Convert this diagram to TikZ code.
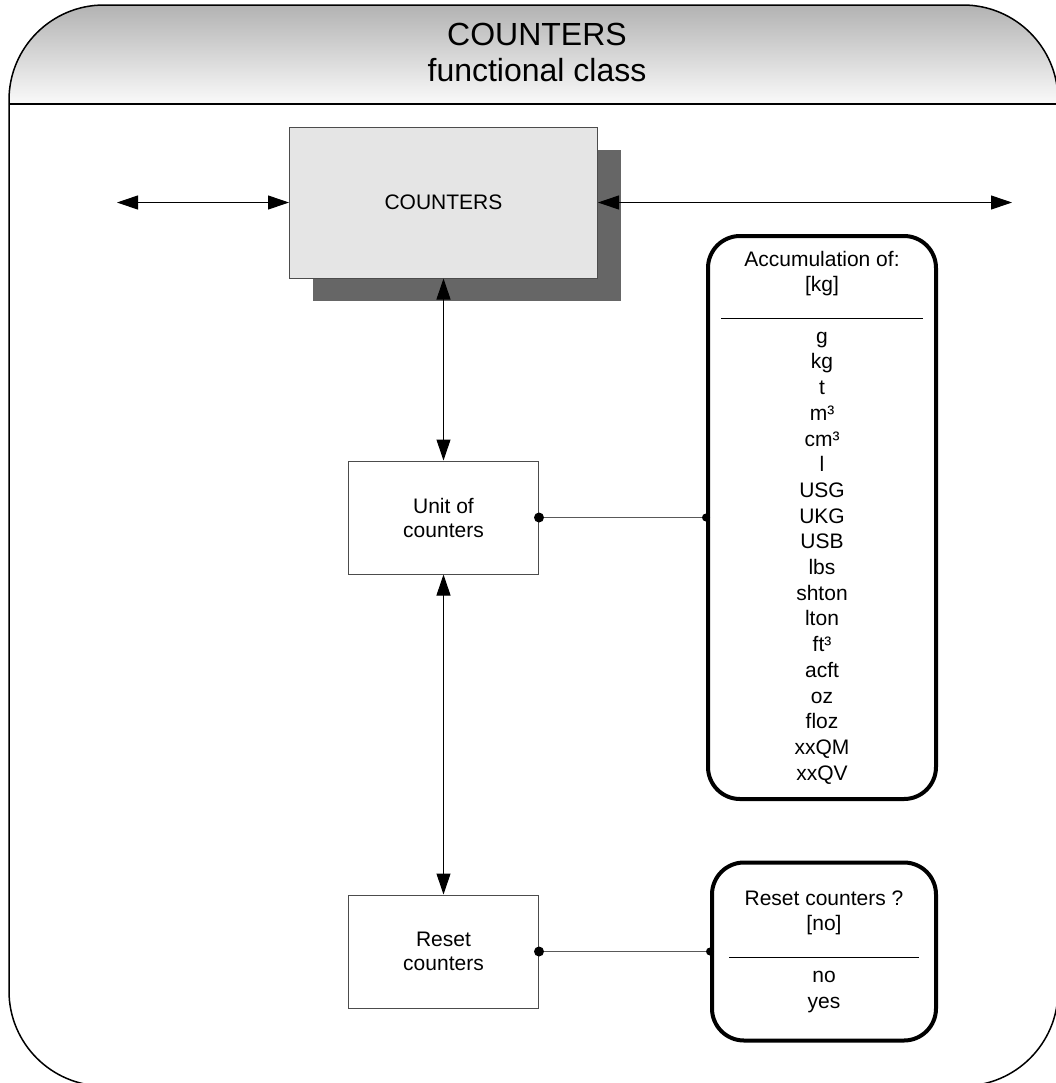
\documentclass[tikz,border=0pt]{standalone}
\usepackage{fontspec}
\setmainfont{Liberation Sans}
\usepackage{tikz}
\usetikzlibrary{arrows.meta,positioning,shadows}
\tikzset{
  box/.style={rectangle, draw=black!70, line width=0.5pt, align=center,
    font=\fontsize{10.5pt}{12pt}\selectfont, inner sep=2pt},
  func/.style={box, fill=black!10, minimum width=154pt, minimum height=75.5pt,
    drop shadow={shadow xshift=11.5pt, shadow yshift=-11.25pt, fill=black!60, opacity=1}},
  param/.style={box, minimum width=95pt, minimum height=56.5pt},
  choice/.style={rectangle, rounded corners=16pt, draw=black, line width=2pt,
    align=center, font=\fontsize{10.5pt}{12.85pt}\selectfont, inner sep=2pt},
  dot/.style={circle, fill=black, inner sep=0pt, minimum size=5pt},
  flow/.style={{Triangle[length=10.5pt,width=7pt]}-{Triangle[length=10.5pt,width=7pt]},
    line width=0.5pt},
  link/.style={draw=black!65, line width=0.5pt},
}
\begin{document}
\begin{tikzpicture}[x=0.5pt, y=-0.5pt]
\useasboundingbox (0,0) rectangle (1056,1083);
\clip (0,0) rectangle (1056,1083);
% frame and header
\begin{scope}
  \clip[rounded corners=47.5pt] (9,5) rectangle (1058,1086);
  \shade[top color=black!30, bottom color=black!2] (9,5) rectangle (1058,104);
\end{scope}
\draw[line width=0.75pt, rounded corners=47.5pt] (9,5) rectangle (1058,1086);
\draw[line width=0.75pt] (9,104) -- (1058,104);
\node[font=\fontsize{16pt}{18pt}\selectfont, align=center] (title) at (537,52)
  {COUNTERS\\functional class};
% blocks
\node[func] (counters) at (443.5,202.5) {COUNTERS};
\node[param, below=91pt of counters] (unit) {Unit of\\counters};
\node[param, below=160pt of unit] (reset) {Reset\\counters};
\node[choice, minimum width=114pt, minimum height=281.5pt, right=83.5pt of unit] (units)
  {Accumulation of:\\{[kg]}\\\rule[-0.5pt]{101pt}{0.5pt}\\g\\kg\\t\\m³\\cm³\\l\\USG\\UKG\\USB\\lbs\\shton\\lton\\ft³\\acft\\oz\\floz\\xxQM\\xxQV};
\node[choice, minimum width=112pt, minimum height=89pt, right=85.5pt of reset] (resetq)
  {Reset counters ?\\{[no]}\\\rule[-0.5pt]{95pt}{0.5pt}\\no\\yes};
% arrows
\coordinate (lin) at (117,202.5);
\coordinate (rout) at (1012,202.5);
\draw[flow] (lin) -- (counters.west);
\draw[flow] (counters.east) -- (rout);
\draw[flow] (counters.south) -- (unit.north);
\draw[flow] (unit.south) -- (reset.north);
% links to the choice lists
\foreach \a/\b in {unit/units, reset/resetq} {
  \draw[link] (\a.east) -- (\b.west);
  \node[dot] (\a-dot) at (\a.east) {};
  \node[dot, minimum size=4pt] (\b-dot) at (\b.west) {};
}
\end{tikzpicture}
\end{document}
